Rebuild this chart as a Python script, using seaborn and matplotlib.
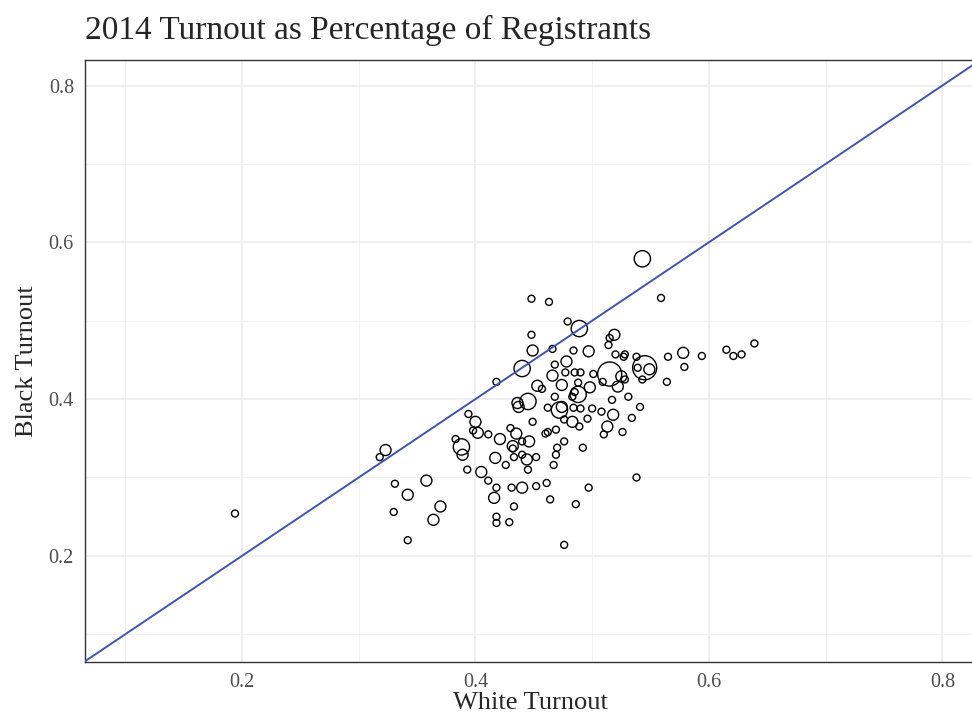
import matplotlib
matplotlib.use("Agg")
import matplotlib.pyplot as plt
import numpy as np
import pandas as pd
import seaborn as sns

# turnout by county
white_turnout = [
    0.194, 0.318, 0.323, 0.331, 0.342, 0.358, 0.330, 0.370, 0.364, 0.342,
    0.394, 0.400, 0.398, 0.402, 0.411, 0.383, 0.388, 0.389, 0.393, 0.405,
    0.411, 0.418, 0.416, 0.418, 0.418, 0.421, 0.417, 0.418, 0.430, 0.435,
    0.432, 0.432, 0.440, 0.446, 0.449, 0.426, 0.433, 0.440, 0.444, 0.452,
    0.445, 0.460, 0.431, 0.440, 0.452, 0.461, 0.464, 0.433, 0.429, 0.476,
    0.497, 0.486, 0.538, 0.436, 0.445, 0.437, 0.448, 0.449, 0.440, 0.453,
    0.457, 0.462, 0.448, 0.463, 0.479, 0.489, 0.543, 0.559, 0.466, 0.484,
    0.497, 0.519, 0.515, 0.514, 0.520, 0.528, 0.527, 0.538, 0.565, 0.578,
    0.579, 0.594, 0.615, 0.621, 0.628, 0.639, 0.478, 0.468, 0.545, 0.539,
    0.549, 0.543, 0.564, 0.466, 0.477, 0.485, 0.490, 0.501, 0.515, 0.525,
    0.528, 0.509, 0.474, 0.498, 0.488, 0.522, 0.485, 0.488, 0.483, 0.468,
    0.472, 0.484, 0.490, 0.517, 0.531, 0.541, 0.500, 0.508, 0.518, 0.534,
    0.476, 0.483, 0.489, 0.496, 0.513, 0.510, 0.526, 0.462, 0.469, 0.476,
    0.470, 0.469, 0.467, 0.492, 0.474,
]
black_turnout = [
    0.254, 0.326, 0.335, 0.292, 0.278, 0.296, 0.256, 0.263, 0.246, 0.220,
    0.381, 0.371, 0.360, 0.357, 0.355, 0.349, 0.339, 0.329, 0.310, 0.307,
    0.296, 0.287, 0.274, 0.250, 0.242, 0.349, 0.325, 0.422, 0.363, 0.356,
    0.340, 0.337, 0.346, 0.346, 0.371, 0.316, 0.326, 0.329, 0.323, 0.326,
    0.310, 0.356, 0.287, 0.287, 0.289, 0.293, 0.272, 0.263, 0.243, 0.214,
    0.287, 0.266, 0.300, 0.395, 0.397, 0.390, 0.482, 0.462, 0.439, 0.417,
    0.413, 0.389, 0.528, 0.524, 0.499, 0.490, 0.579, 0.529, 0.464, 0.462,
    0.461, 0.482, 0.478, 0.469, 0.457, 0.457, 0.454, 0.454, 0.454, 0.459,
    0.441, 0.455, 0.463, 0.455, 0.457, 0.471, 0.448, 0.444, 0.440, 0.440,
    0.438, 0.425, 0.422, 0.430, 0.434, 0.434, 0.434, 0.432, 0.432, 0.429,
    0.425, 0.422, 0.418, 0.415, 0.421, 0.416, 0.409, 0.406, 0.403, 0.403,
    0.386, 0.389, 0.388, 0.399, 0.403, 0.390, 0.388, 0.384, 0.380, 0.376,
    0.374, 0.371, 0.365, 0.375, 0.365, 0.355, 0.358, 0.358, 0.361, 0.346,
    0.338, 0.329, 0.316, 0.338, 0.390,
]
# registrants (thousands), drives circle size
registrants = [
    10, 10, 25, 10, 25, 25, 10, 25, 25, 10,
    10, 25, 10, 25, 10, 10, 55, 25, 10, 25,
    10, 10, 25, 10, 10, 25, 25, 10, 10, 25,
    25, 10, 10, 25, 10, 10, 10, 10, 25, 10,
    10, 10, 10, 25, 10, 10, 10, 10, 10, 10,
    10, 10, 10, 25, 55, 25, 10, 25, 55, 25,
    10, 10, 10, 10, 10, 55, 55, 10, 10, 10,
    25, 25, 10, 10, 10, 10, 10, 10, 10, 25,
    10, 10, 10, 10, 10, 10, 25, 10, 120, 10,
    25, 10, 10, 25, 10, 10, 10, 10, 120, 25,
    10, 10, 25, 25, 10, 25, 10, 55, 10, 10,
    55, 10, 10, 10, 10, 10, 10, 10, 25, 10,
    10, 25, 10, 10, 25, 10, 10, 10, 10, 10,
    10, 10, 10, 10, 25,
]

df = pd.DataFrame({"white": white_turnout, "black": black_turnout,
                   "registrants": registrants})

sns.set_style("white")
plt.rcParams["font.family"] = ["Liberation Serif", "DejaVu Serif"]

fig = plt.figure(figsize=(9.72, 7.23), dpi=100)
ax = fig.add_axes([85 / 972, 61 / 723, 890 / 972, 602 / 723])

sns.scatterplot(data=df, x="white", y="black", size="registrants",
                sizes=(25, 300), size_norm=(10, 120), legend=False,
                facecolors="none", edgecolors="black", linewidths=1.0,
                marker="o", ax=ax, zorder=3)
ax.axline((0, 0), slope=1, color="#4152B5", lw=1.4, zorder=4)

ax.set_xlim(0.0655, 0.828)
ax.set_ylim(0.0646, 0.8326)
ax.set_xticks([0.2, 0.4, 0.6, 0.8])
ax.set_yticks([0.2, 0.4, 0.6, 0.8])
ax.set_xticks([0.1, 0.3, 0.5, 0.7], minor=True)
ax.set_yticks([0.1, 0.3, 0.5, 0.7], minor=True)
ax.grid(which="major", color="#EBEBEB", lw=1.1, zorder=0)
ax.grid(which="minor", color="#F2F2F2", lw=0.7, zorder=0)
ax.tick_params(which="major", direction="out", length=4, width=1.2,
               color="#333333", labelsize=14.5, labelcolor="#4D4D4D", pad=4)
ax.tick_params(which="minor", length=0)
for s in ax.spines.values():
    s.set_color("#333333")
    s.set_linewidth(1.0)

ax.set_xlabel("White Turnout", fontsize=19, labelpad=0)
ax.set_ylabel("Black Turnout", fontsize=19, labelpad=8)
fig.text(85 / 972, 1 - 30 / 723, "2014 Turnout as Percentage of Registrants",
         fontsize=24, va="center", ha="left")

fig.savefig("out.png", dpi=100)
